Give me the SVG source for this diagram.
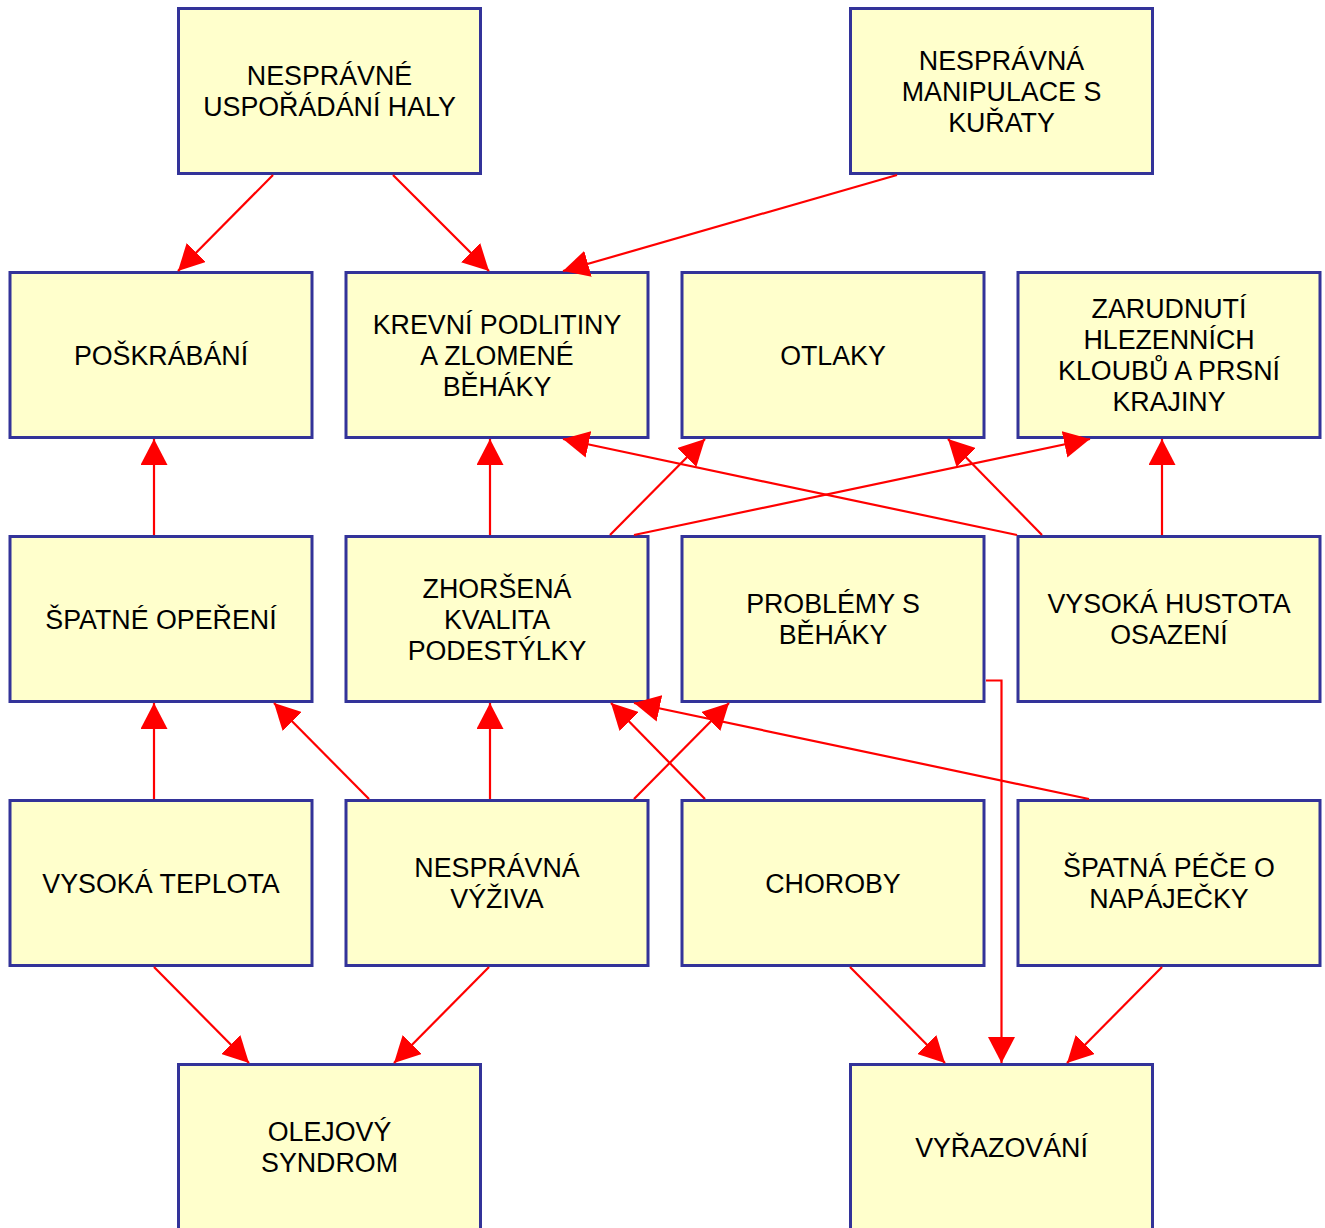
<svg xmlns="http://www.w3.org/2000/svg" width="1325" height="1228" viewBox="0 0 1325 1228">
<style>
.box{fill:#FFFFCC;stroke:#333399;stroke-width:3}
.t{font-family:"Liberation Sans",Arial,sans-serif;font-size:26.8px;fill:#000;text-anchor:middle}
.c{stroke:#FF0000;stroke-width:2.2;fill:none;marker-end:url(#ah)}
</style>
<defs>
<marker id="ah" markerUnits="userSpaceOnUse" markerWidth="27" markerHeight="27" refX="26" refY="13.5" orient="auto">
<path d="M0,0 L26,13.5 L0,27 z" fill="#FF0000"/>
</marker>
</defs>
<rect width="1325" height="1228" fill="#FFFFFF"/>
<g id="n-usporadani"><rect class="box" x="178.5" y="8.5" width="302" height="165"/><text class="t" x="329.5" y="85">NESPRÁVNÉ</text><text class="t" x="329.5" y="116">USPOŘÁDÁNÍ HALY</text></g>
<g id="n-manipulace"><rect class="box" x="850.5" y="8.5" width="302" height="165"/><text class="t" x="1001.5" y="69.5">NESPRÁVNÁ</text><text class="t" x="1001.5" y="100.5">MANIPULACE S</text><text class="t" x="1001.5" y="131.5">KUŘATY</text></g>
<g id="n-poskrabani"><rect class="box" x="10" y="272.5" width="302" height="165"/><text class="t" x="161" y="364.5">POŠKRÁBÁNÍ</text></g>
<g id="n-krevni"><rect class="box" x="346" y="272.5" width="302" height="165"/><text class="t" x="497" y="333.5">KREVNÍ PODLITINY</text><text class="t" x="497" y="364.5">A ZLOMENÉ</text><text class="t" x="497" y="395.5">BĚHÁKY</text></g>
<g id="n-otlaky"><rect class="box" x="682" y="272.5" width="302" height="165"/><text class="t" x="833" y="364.5">OTLAKY</text></g>
<g id="n-zarudnuti"><rect class="box" x="1018" y="272.5" width="302" height="165"/><text class="t" x="1169" y="318">ZARUDNUTÍ</text><text class="t" x="1169" y="349">HLEZENNÍCH</text><text class="t" x="1169" y="380">KLOUBŮ A PRSNÍ</text><text class="t" x="1169" y="411">KRAJINY</text></g>
<g id="n-opereni"><rect class="box" x="10" y="536.5" width="302" height="165"/><text class="t" x="161" y="628.5">ŠPATNÉ OPEŘENÍ</text></g>
<g id="n-podestylka"><rect class="box" x="346" y="536.5" width="302" height="165"/><text class="t" x="497" y="597.5">ZHORŠENÁ</text><text class="t" x="497" y="628.5">KVALITA</text><text class="t" x="497" y="659.5">PODESTÝLKY</text></g>
<g id="n-problemy"><rect class="box" x="682" y="536.5" width="302" height="165"/><text class="t" x="833" y="613">PROBLÉMY S</text><text class="t" x="833" y="644">BĚHÁKY</text></g>
<g id="n-hustota"><rect class="box" x="1018" y="536.5" width="302" height="165"/><text class="t" x="1169" y="613">VYSOKÁ HUSTOTA</text><text class="t" x="1169" y="644">OSAZENÍ</text></g>
<g id="n-teplota"><rect class="box" x="10" y="800.5" width="302" height="165"/><text class="t" x="161" y="892.5">VYSOKÁ TEPLOTA</text></g>
<g id="n-vyziva"><rect class="box" x="346" y="800.5" width="302" height="165"/><text class="t" x="497" y="877">NESPRÁVNÁ</text><text class="t" x="497" y="908">VÝŽIVA</text></g>
<g id="n-choroby"><rect class="box" x="682" y="800.5" width="302" height="165"/><text class="t" x="833" y="892.5">CHOROBY</text></g>
<g id="n-napajecky"><rect class="box" x="1018" y="800.5" width="302" height="165"/><text class="t" x="1169" y="877">ŠPATNÁ PÉČE O</text><text class="t" x="1169" y="908">NAPÁJEČKY</text></g>
<g id="n-olejovy"><rect class="box" x="178.5" y="1064.5" width="302" height="165"/><text class="t" x="329.5" y="1141">OLEJOVÝ</text><text class="t" x="329.5" y="1172">SYNDROM</text></g>
<g id="n-vyrazovani"><rect class="box" x="850.5" y="1064.5" width="302" height="165"/><text class="t" x="1001.5" y="1156.5">VYŘAZOVÁNÍ</text></g>
<g id="connectors">
<line class="c" x1="273" y1="175" x2="178" y2="271"/>
<line class="c" x1="393" y1="175" x2="489" y2="271"/>
<line class="c" x1="897" y1="175" x2="563" y2="271"/>
<line class="c" x1="154" y1="535" x2="154" y2="439"/>
<line class="c" x1="490" y1="535" x2="490" y2="439"/>
<line class="c" x1="610" y1="535" x2="705" y2="439"/>
<line class="c" x1="634" y1="535" x2="1090" y2="439"/>
<line class="c" x1="1017" y1="535" x2="563" y2="439"/>
<line class="c" x1="1042" y1="535" x2="948" y2="439"/>
<line class="c" x1="1162" y1="535" x2="1162" y2="439"/>
<line class="c" x1="154" y1="799" x2="154" y2="703"/>
<line class="c" x1="369" y1="799" x2="274" y2="703"/>
<line class="c" x1="490" y1="799" x2="490" y2="703"/>
<line class="c" x1="634" y1="799" x2="729" y2="703"/>
<line class="c" x1="705" y1="799" x2="611" y2="703"/>
<line class="c" x1="1089" y1="799" x2="634" y2="703"/>
<polyline class="c" points="986,680.5 1001.5,680.5 1001.5,1063"/>
<line class="c" x1="154" y1="967" x2="249" y2="1063"/>
<line class="c" x1="489" y1="967" x2="394" y2="1063"/>
<line class="c" x1="850" y1="967" x2="945" y2="1063"/>
<line class="c" x1="1162" y1="967" x2="1067" y2="1063"/>
</g>
</svg>
